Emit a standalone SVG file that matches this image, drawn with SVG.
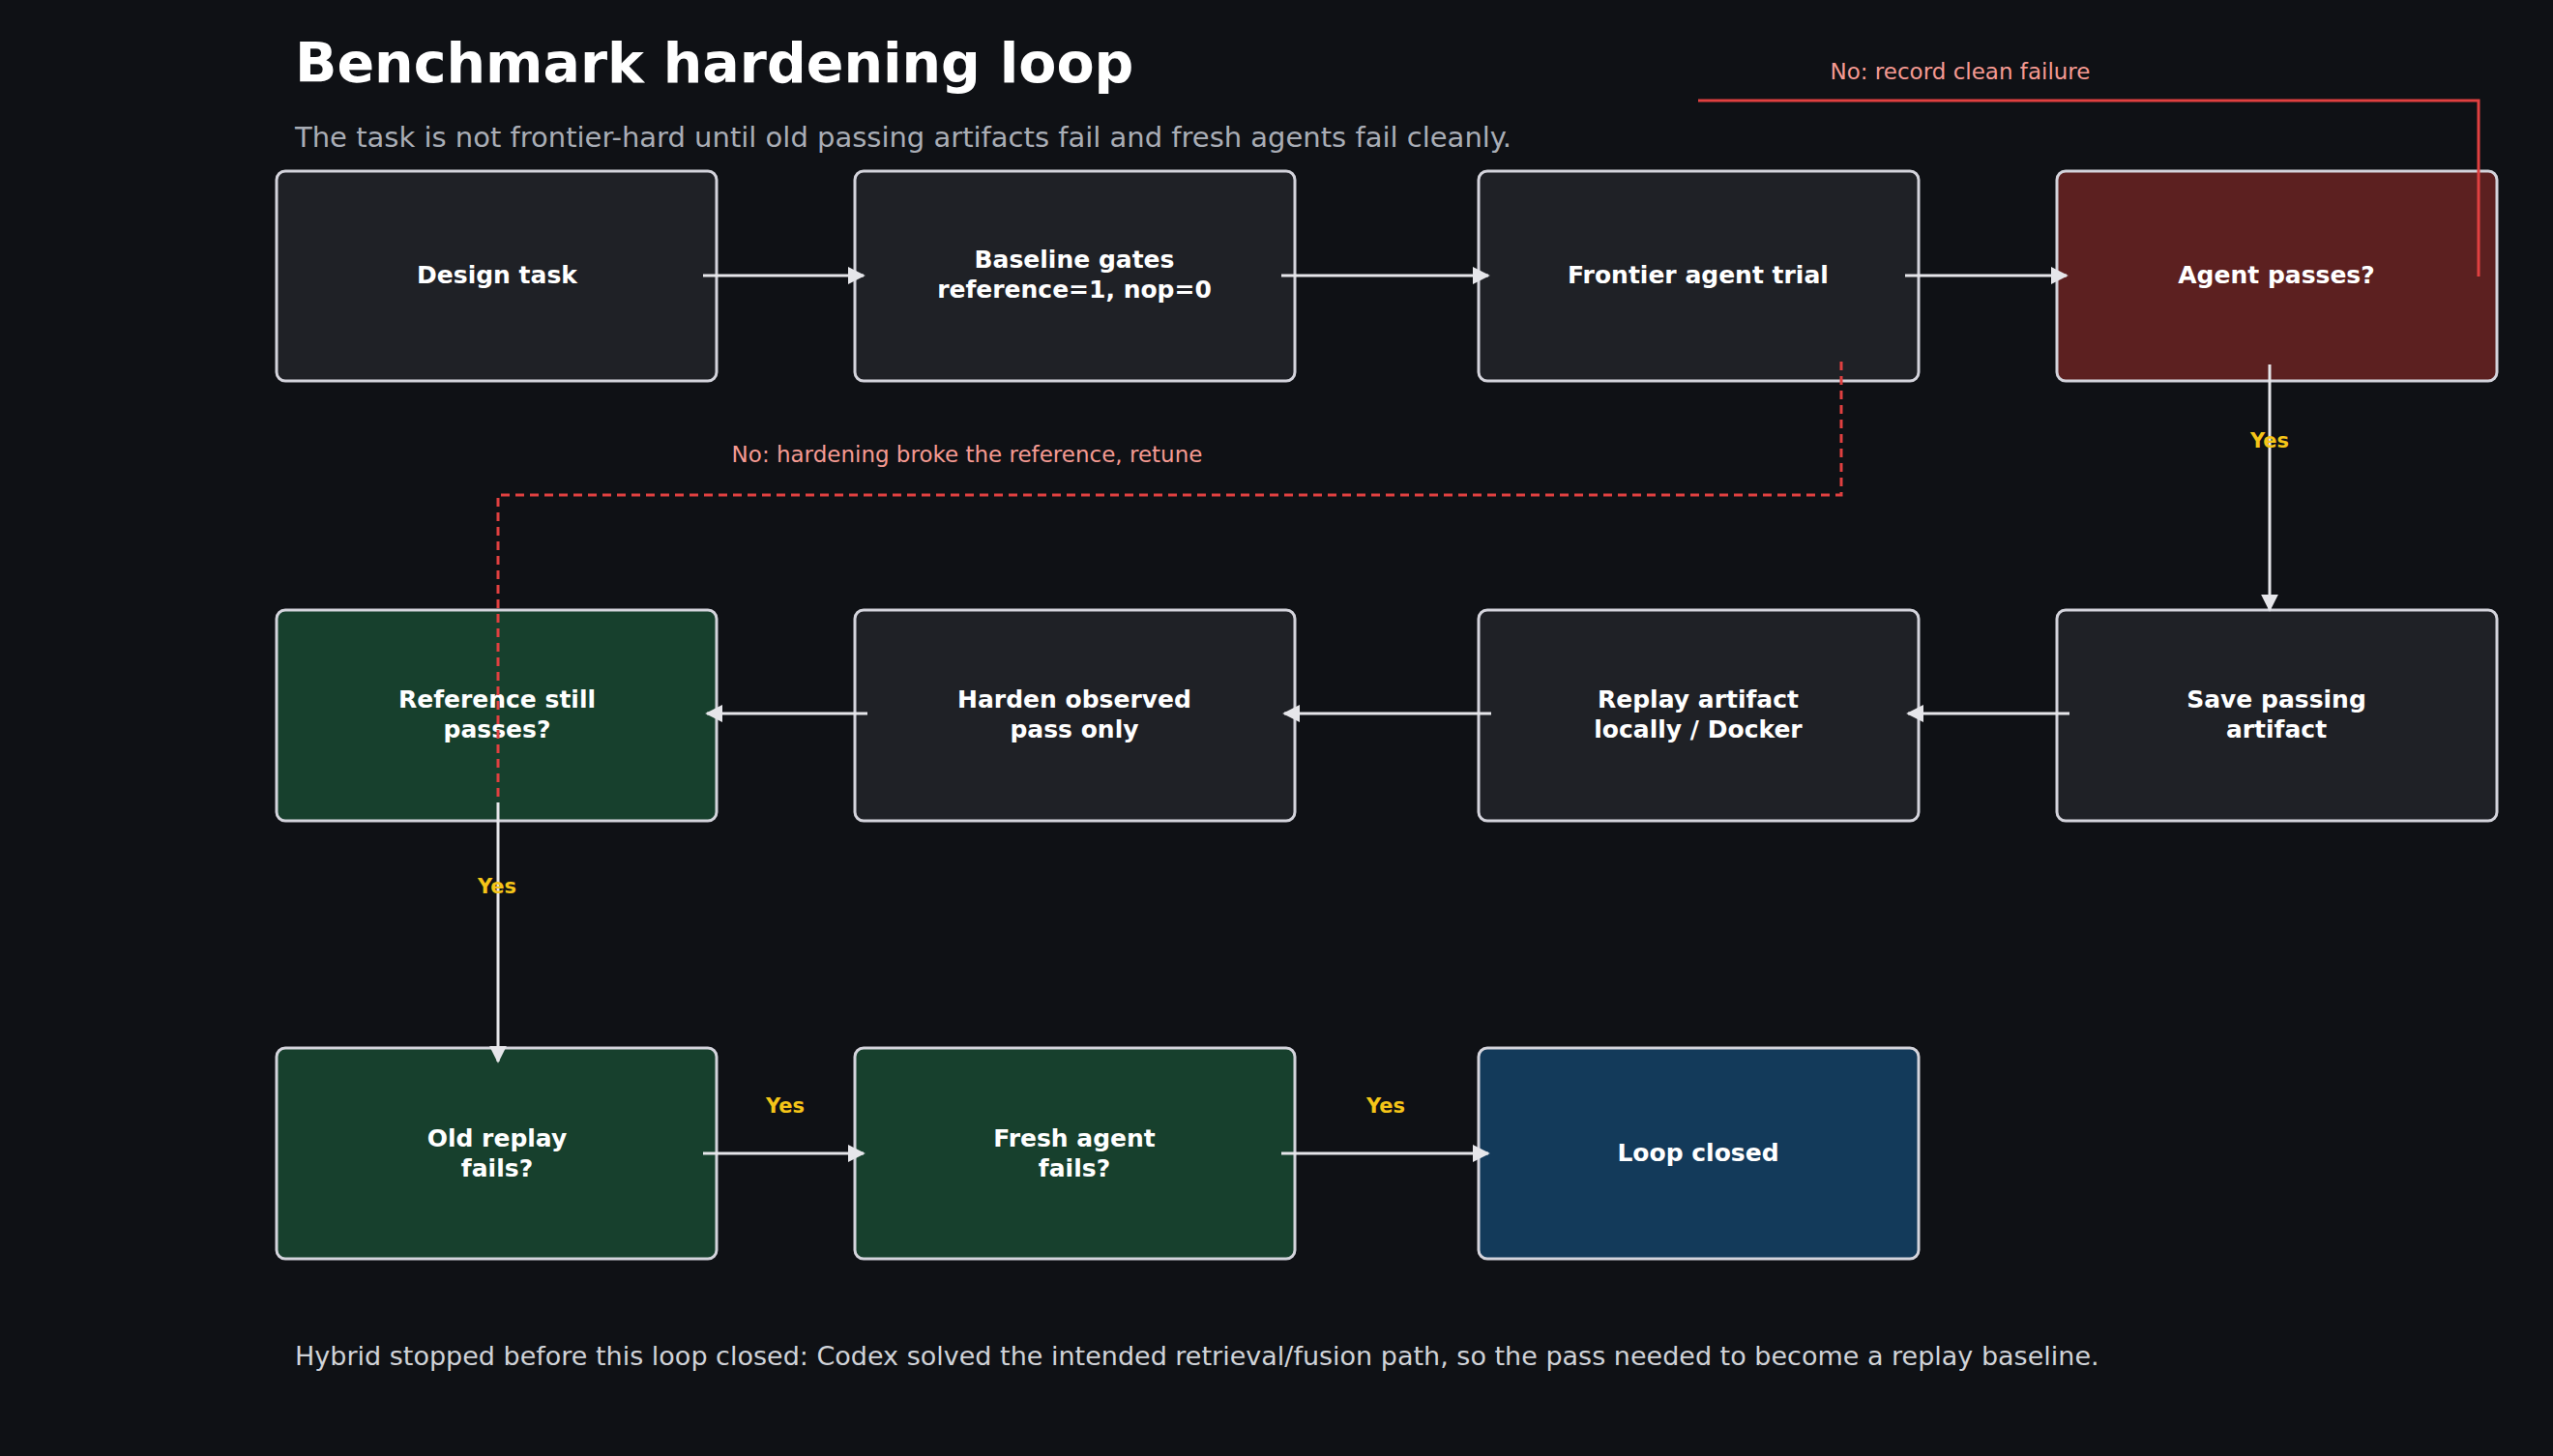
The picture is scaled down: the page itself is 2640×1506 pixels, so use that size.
<svg xmlns="http://www.w3.org/2000/svg" width="2640" height="1506" viewBox="0 0 2640 1506">
<style>
.n{stroke:#d4d4dc;stroke-width:3}
.t{font-family:"DejaVu Sans",sans-serif;font-weight:bold;font-size:25px;fill:#ffffff;text-anchor:middle}
.c{stroke:#e6e6ea;stroke-width:3;fill:none}
.y{font-family:"DejaVu Sans",sans-serif;font-weight:bold;font-size:21px;fill:#f5c518;text-anchor:middle}
.r{font-family:"DejaVu Sans",sans-serif;font-size:23px;fill:#f59a92;text-anchor:middle}
</style>
<defs>
<marker id="a" viewBox="0 0 10 10" refX="9" refY="5" markerWidth="6" markerHeight="6" orient="auto"><path d="M0,0L10,5L0,10z" fill="#e6e6ea"/></marker>
</defs>
<rect width="2640" height="1506" fill="#0f1115"/>
<text x="305" y="85" font-family="DejaVu Sans,sans-serif" font-weight="bold" font-size="57" fill="#ffffff">Benchmark hardening loop</text>
<text x="305" y="152" font-family="DejaVu Sans,sans-serif" font-size="29" fill="#a9adb5">The task is not frontier-hard until old passing artifacts fail and fresh agents fail cleanly.</text>
<text x="305" y="1412" font-family="DejaVu Sans,sans-serif" font-size="27" fill="#d0d3d8">Hybrid stopped before this loop closed: Codex solved the intended retrieval/fusion path, so the pass needed to become a replay baseline.</text>
<g id="design"><rect class="n" x="286" y="177" width="455" height="217" rx="9" fill="#1f2126"/><text class="t" x="514" y="293">Design task</text></g>
<g id="baseline"><rect class="n" x="884" y="177" width="455" height="217" rx="9" fill="#1f2126"/><text class="t" x="1111" y="277">Baseline gates</text><text class="t" x="1111" y="308">reference=1, nop=0</text></g>
<g id="frontier"><rect class="n" x="1529" y="177" width="455" height="217" rx="9" fill="#1f2126"/><text class="t" x="1756" y="293">Frontier agent trial</text></g>
<g id="passes"><rect class="n" x="2127" y="177" width="455" height="217" rx="9" fill="#5c2020"/><text class="t" x="2354" y="293">Agent passes?</text></g>
<g id="save"><rect class="n" x="2127" y="631" width="455" height="218" rx="9" fill="#1f2126"/><text class="t" x="2354" y="732">Save passing</text><text class="t" x="2354" y="763">artifact</text></g>
<g id="replay"><rect class="n" x="1529" y="631" width="455" height="218" rx="9" fill="#1f2126"/><text class="t" x="1756" y="732">Replay artifact</text><text class="t" x="1756" y="763">locally / Docker</text></g>
<g id="harden"><rect class="n" x="884" y="631" width="455" height="218" rx="9" fill="#1f2126"/><text class="t" x="1111" y="732">Harden observed</text><text class="t" x="1111" y="763">pass only</text></g>
<g id="reference"><rect class="n" x="286" y="631" width="455" height="218" rx="9" fill="#17402d"/><text class="t" x="514" y="732">Reference still</text><text class="t" x="514" y="763">passes?</text></g>
<g id="old"><rect class="n" x="286" y="1084" width="455" height="218" rx="9" fill="#17402d"/><text class="t" x="514" y="1186">Old replay</text><text class="t" x="514" y="1217">fails?</text></g>
<g id="fresh"><rect class="n" x="884" y="1084" width="455" height="218" rx="9" fill="#17402d"/><text class="t" x="1111" y="1186">Fresh agent</text><text class="t" x="1111" y="1217">fails?</text></g>
<g id="closed"><rect class="n" x="1529" y="1084" width="455" height="218" rx="9" fill="#133a5a"/><text class="t" x="1756" y="1201">Loop closed</text></g>
<g id="connectors">
<path class="c" d="M727,285H893" marker-end="url(#a)"/>
<path class="c" d="M1325,285H1539" marker-end="url(#a)"/>
<path class="c" d="M1970,285H2137" marker-end="url(#a)"/>
<path class="c" d="M2347,377V631" marker-end="url(#a)"/>
<text class="y" x="2347" y="463">Yes</text>
<path d="M2563,286V104H1756" stroke="#e04040" stroke-width="3" fill="none"/>
<text class="r" x="2027" y="82">No: record clean failure</text>
<path class="c" d="M2140,738H1973" marker-end="url(#a)"/>
<path class="c" d="M1542,738H1328" marker-end="url(#a)"/>
<path class="c" d="M897,738H731" marker-end="url(#a)"/>
<path d="M1904,374V512H515V830" stroke="#e04040" stroke-width="3" stroke-dasharray="9,6" fill="none"/>
<text class="r" x="1000" y="478">No: hardening broke the reference, retune</text>
<path class="c" d="M515,830V1098" marker-end="url(#a)"/>
<text class="y" x="514" y="924">Yes</text>
<path class="c" d="M727,1193H893" marker-end="url(#a)"/>
<text class="y" x="812" y="1151">Yes</text>
<path class="c" d="M1325,1193H1539" marker-end="url(#a)"/>
<text class="y" x="1433" y="1151">Yes</text>
</g>
</svg>
